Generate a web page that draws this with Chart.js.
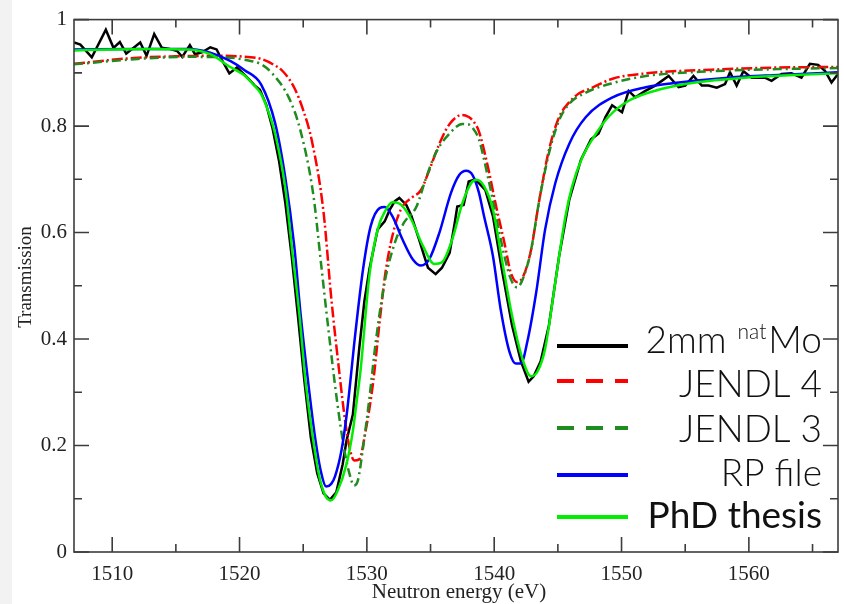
<!DOCTYPE html>
<html>
<head>
<meta charset="utf-8">
<script src="https://cdn.jsdelivr.net/npm/chart.js@4.4.0/dist/chart.umd.min.js"></script>
<style>
  html, body { margin: 0; padding: 0; background: #fff; }
</style>
</head>
<body>
<canvas id="chart" width="844" height="604"></canvas>
<script>
// measured transmission, 2mm natMo
const expE = [1507.0, 1507.5, 1508.4, 1509.5, 1510.1, 1510.6, 1511.1, 1512.2, 1512.7, 1513.3,
              1513.9, 1514.5, 1515.1, 1515.5, 1516.1, 1516.5, 1517.1, 1517.7, 1518.2, 1518.6,
              1519.2, 1519.8, 1520.5, 1521.2, 1521.6, 1522.1, 1522.6, 1523.1, 1523.6, 1524.1,
              1524.6, 1525.1, 1525.6, 1526.1, 1526.6, 1527.1, 1527.6, 1528.1, 1528.4, 1528.9,
              1529.4, 1529.8, 1530.2, 1530.85, 1531.4, 1531.8, 1532.2, 1532.55, 1533.1, 1533.5,
              1534.1, 1534.5, 1534.8, 1535.4, 1535.9, 1536.5, 1536.9, 1537.1, 1537.6, 1538.0,
              1538.4, 1538.8, 1539.3, 1539.9, 1540.6, 1541.4, 1542.1, 1542.7, 1543.1, 1543.65,
              1544.3, 1545.1, 1545.9, 1546.8, 1547.6, 1548.2, 1548.74, 1549.26, 1550.04, 1550.56,
              1551.09, 1551.87, 1552.65, 1553.7, 1554.48, 1555.0, 1555.65, 1556.3, 1556.83, 1557.48,
              1558.13, 1558.52, 1559.04, 1559.57, 1560.22, 1561.26, 1561.78, 1562.57, 1563.35, 1564.13,
              1564.79, 1565.44, 1565.97, 1566.49, 1567.0];
const expT = [0.957, 0.953, 0.929, 0.981, 0.947, 0.958, 0.936, 0.957, 0.932, 0.973,
              0.947, 0.945, 0.941, 0.930, 0.952, 0.935, 0.939, 0.948, 0.944, 0.925,
              0.899, 0.910, 0.894, 0.876, 0.868, 0.840, 0.795, 0.735, 0.655, 0.555,
              0.440, 0.320, 0.215, 0.148, 0.110, 0.098, 0.112, 0.165, 0.209, 0.258,
              0.382, 0.470, 0.531, 0.606, 0.621, 0.643, 0.659, 0.665, 0.652, 0.631,
              0.587, 0.556, 0.534, 0.522, 0.534, 0.562, 0.618, 0.649, 0.652, 0.696,
              0.699, 0.693, 0.680, 0.631, 0.531, 0.426, 0.358, 0.320, 0.330, 0.358,
              0.426, 0.556, 0.662, 0.736, 0.775, 0.786, 0.817, 0.839, 0.826, 0.866,
              0.854, 0.866, 0.876, 0.894, 0.873, 0.876, 0.894, 0.876, 0.876, 0.872,
              0.879, 0.901, 0.876, 0.903, 0.891, 0.891, 0.885, 0.898, 0.899, 0.891,
              0.917, 0.915, 0.904, 0.882, 0.898];

// JENDL 4
const j4E = [1507, 1511.7, 1515, 1518, 1520, 1521.7, 1522.7, 1523.4, 1524.3, 1525.0,
             1525.7, 1526.6, 1527.2, 1527.8, 1528.3, 1528.65, 1529.0, 1529.4, 1529.9, 1530.5,
             1531.0, 1531.5, 1532.2, 1532.8, 1533.5, 1534.25, 1534.9, 1535.7, 1536.5, 1537.5,
             1538.0, 1538.4, 1538.8, 1539.5, 1540.1, 1540.8, 1541.3, 1541.8, 1542.3, 1542.9,
             1543.5, 1544.3, 1545.1, 1545.9, 1546.7, 1547.5, 1549.3, 1551.9, 1557.1, 1562.3, 1567];
const j4T = [0.917, 0.928, 0.931, 0.932, 0.931, 0.926, 0.915, 0.903, 0.872, 0.830,
             0.770, 0.638, 0.478, 0.345, 0.245, 0.195, 0.172, 0.174, 0.227, 0.320,
             0.432, 0.531, 0.612, 0.649, 0.665, 0.680, 0.717, 0.767, 0.804, 0.821,
             0.817, 0.808, 0.790, 0.724, 0.655, 0.581, 0.525, 0.507, 0.519, 0.568,
             0.655, 0.755, 0.817, 0.845, 0.862, 0.870, 0.889, 0.899, 0.906, 0.910, 0.911];

// JENDL 3
const j3E = [1507, 1512, 1516, 1519, 1520.5, 1521.7, 1522.6, 1523.9, 1524.8, 1525.8,
             1526.4, 1527.0, 1527.65, 1528.2, 1528.6, 1529.0, 1529.3, 1529.7, 1530.2, 1530.7,
             1531.4, 1532.2, 1532.9, 1533.9, 1534.6, 1535.4, 1536.5, 1537.5, 1538.0, 1538.3,
             1538.8, 1539.5, 1540.1, 1540.8, 1541.3, 1541.8, 1542.3, 1542.9, 1543.5, 1544.3,
             1545.1, 1545.9, 1547.2, 1549.2, 1551.9, 1557.1, 1562.3, 1567];
const j3T = [0.916, 0.926, 0.930, 0.929, 0.924, 0.916, 0.898, 0.852, 0.790, 0.670,
             0.542, 0.414, 0.285, 0.196, 0.150, 0.125, 0.135, 0.196, 0.289, 0.395,
             0.507, 0.581, 0.618, 0.649, 0.699, 0.749, 0.786, 0.804, 0.803, 0.797,
             0.775, 0.705, 0.637, 0.556, 0.513, 0.497, 0.516, 0.568, 0.655, 0.749,
             0.811, 0.842, 0.863, 0.880, 0.894, 0.903, 0.907, 0.909];

// RP file
const rpE = [1507, 1512, 1516, 1517.7, 1519.3, 1520.4, 1521.7, 1522.8, 1523.6, 1524.3,
             1524.8, 1525.4, 1525.9, 1526.4, 1526.8, 1527.2, 1527.5, 1528.0, 1528.4, 1528.7,
             1529.0, 1529.7, 1530.3, 1531.0, 1531.4, 1532.0, 1532.8, 1533.6, 1534.25, 1534.9,
             1535.7, 1536.6, 1537.25, 1537.8, 1538.3, 1538.8, 1539.2, 1539.9, 1540.5, 1541.2,
             1541.7, 1542.1, 1542.6, 1543.3, 1544.0, 1544.8, 1545.9, 1547.2, 1549.3, 1551.9,
             1554.5, 1558.4, 1562.3, 1567];
const rpT = [0.944, 0.945, 0.945, 0.938, 0.922, 0.905, 0.878, 0.805, 0.702, 0.574,
             0.446, 0.317, 0.221, 0.150, 0.123, 0.128, 0.142, 0.190, 0.255, 0.320,
             0.390, 0.531, 0.612, 0.646, 0.648, 0.631, 0.587, 0.550, 0.538, 0.550,
             0.600, 0.674, 0.708, 0.716, 0.708, 0.675, 0.631, 0.556, 0.457, 0.376,
             0.354, 0.354, 0.395, 0.488, 0.606, 0.693, 0.767, 0.817, 0.854, 0.873,
             0.882, 0.891, 0.896, 0.901];

// PhD thesis
const phdE = [1507, 1510, 1513, 1516, 1517.7, 1519.2, 1520.4, 1521.0, 1521.7, 1522.3,
              1522.8, 1523.6, 1524.1, 1524.7, 1525.2, 1525.8, 1526.3, 1526.8, 1527.2, 1527.7,
              1528.4, 1528.9, 1529.2, 1529.5, 1530.2, 1530.85, 1531.5, 1532.0, 1532.7, 1533.5,
              1534.4, 1535.3, 1535.9, 1536.7, 1537.5, 1538.2, 1538.6, 1539.2, 1539.9, 1540.6,
              1541.4, 1542.2, 1542.9, 1543.4, 1544.0, 1544.8, 1545.6, 1546.1, 1546.9, 1548.0,
              1549.0, 1550.6, 1553.2, 1555.8, 1559.7, 1563.6, 1567];
const phdT = [0.942, 0.944, 0.945, 0.944, 0.935, 0.912, 0.895, 0.880, 0.860, 0.825,
              0.785, 0.683, 0.574, 0.446, 0.317, 0.208, 0.138, 0.103, 0.097, 0.115,
              0.165, 0.227, 0.283, 0.340, 0.520, 0.606, 0.643, 0.657, 0.652, 0.624,
              0.575, 0.541, 0.544, 0.587, 0.655, 0.693, 0.699, 0.687, 0.643, 0.550,
              0.444, 0.364, 0.330, 0.339, 0.382, 0.507, 0.631, 0.685, 0.740, 0.786,
              0.818, 0.848, 0.870, 0.882, 0.891, 0.896, 0.899];

const xTicks = [1510, 1520, 1530, 1540, 1550, 1560];
const xMinor = [1515, 1525, 1535, 1545, 1555, 1565];
const yTicks = [0, 0.2, 0.4, 0.6, 0.8, 1];
const yMinor = [0.1, 0.3, 0.5, 0.7, 0.9];

const toPts = (xs, ys) => xs.map((v, i) => ({ x: v, y: ys[i] }));

// white page with a thin grey strip on the left
const bg = {
  id: 'bg',
  beforeDraw(chart) {
    const ctx = chart.ctx;
    ctx.save();
    ctx.fillStyle = '#ffffff';
    ctx.fillRect(0, 0, chart.width, chart.height);
    ctx.fillStyle = '#f2f2f2';
    ctx.fillRect(0, 0, 12, chart.height);
    ctx.restore();
  }
};

// box round the plot with inward ticks on all four sides, plus axis titles
const frame = {
  id: 'frame',
  afterDatasetsDraw(chart) {
    const { ctx, chartArea: a, scales: { x, y } } = chart;
    ctx.save();
    ctx.strokeStyle = '#3c3c3c';
    ctx.lineWidth = 1.6;
    ctx.strokeRect(a.left, a.top, a.right - a.left, a.bottom - a.top);
    ctx.beginPath();
    const xt = (v, len) => {
      const px = x.getPixelForValue(v);
      ctx.moveTo(px, a.bottom); ctx.lineTo(px, a.bottom - len);
      ctx.moveTo(px, a.top); ctx.lineTo(px, a.top + len);
    };
    const yt = (v, len) => {
      const py = y.getPixelForValue(v);
      ctx.moveTo(a.left, py); ctx.lineTo(a.left + len, py);
      ctx.moveTo(a.right, py); ctx.lineTo(a.right - len, py);
    };
    xTicks.forEach(v => xt(v, 15));
    xMinor.forEach(v => xt(v, 8));
    yTicks.forEach(v => yt(v, 15));
    yMinor.forEach(v => yt(v, 8));
    ctx.stroke();

    ctx.fillStyle = '#222';
    ctx.textAlign = 'center';
    ctx.textBaseline = 'middle';
    ctx.font = '21px "Liberation Serif"';
    ctx.fillText('Neutron energy (eV)', (a.left + a.right) / 2 + 3, 592);
    ctx.translate(26, 277);
    ctx.rotate(-Math.PI / 2);
    ctx.font = '19px "Liberation Serif"';
    ctx.fillText('Transmission', 0, 0);
    ctx.restore();
  }
};

// legend in the lower right corner, text right aligned
const legendLineY = [346, 381, 428, 475, 517];
const legendTextY = [353, 397, 442, 486, 528];
const legend = {
  id: 'customLegend',
  afterDraw(chart) {
    const ctx = chart.ctx;
    const right = 822;
    ctx.save();
    chart.data.datasets.forEach((ds, i) => {
      ctx.beginPath();
      ctx.strokeStyle = ds.borderColor;
      ctx.lineWidth = 4;
      ctx.setLineDash(ds.legendDash || []);
      ctx.moveTo(557, legendLineY[i]);
      ctx.lineTo(628, legendLineY[i]);
      ctx.stroke();
      ctx.setLineDash([]);
      ctx.fillStyle = '#111';
      ctx.textBaseline = 'alphabetic';
      ctx.textAlign = 'right';
      const weight = ds.legendWeight || 300;
      ctx.font = weight + ' 37px Lato';
      if (ds.label === '2mm natMo') {
        ctx.fillText('Mo', right, legendTextY[i]);
        const wMo = ctx.measureText('Mo').width;
        ctx.font = weight + ' 21px Lato';
        ctx.fillText('nat', right - wMo - 2, legendTextY[i] - 14);
        const wNat = ctx.measureText('nat').width;
        ctx.font = weight + ' 37px Lato';
        ctx.fillText('2mm', right - wMo - wNat - 13, legendTextY[i]);
      } else {
        ctx.fillText(ds.label, right, legendTextY[i]);
      }
    });
    ctx.restore();
  }
};

const tickFont = { family: 'Liberation Serif', size: 21 };

new Chart(document.getElementById('chart'), {
  type: 'line',
  data: {
    datasets: [
      { label: '2mm natMo', data: toPts(expE, expT), borderColor: '#000000', borderWidth: 2.5,
        tension: 0, order: 4 },
      { label: 'JENDL 4', data: toPts(j4E, j4T), borderColor: '#ff0000', borderWidth: 2.5,
        borderDash: [11, 3, 2, 3], legendDash: [17, 12], cubicInterpolationMode: 'monotone', order: 3 },
      { label: 'JENDL 3', data: toPts(j3E, j3T), borderColor: '#1e8c1e', borderWidth: 2.5,
        borderDash: [9, 4, 2, 4], legendDash: [17, 12], cubicInterpolationMode: 'monotone', order: 2 },
      { label: 'RP file', data: toPts(rpE, rpT), borderColor: '#0000ff', borderWidth: 2.5,
        cubicInterpolationMode: 'monotone', order: 1 },
      { label: 'PhD thesis', data: toPts(phdE, phdT), borderColor: '#00ee00', borderWidth: 2.5,
        cubicInterpolationMode: 'monotone', order: 0, legendWeight: 400 }
    ]
  },
  options: {
    responsive: false,
    animation: false,
    elements: { point: { radius: 0 } },
    layout: { padding: { left: 0, top: 15, right: 6, bottom: 0 } },
    plugins: { legend: { display: false }, tooltip: { enabled: false } },
    scales: {
      x: {
        type: 'linear', min: 1507, max: 1567,
        afterBuildTicks: s => { s.ticks = xTicks.map(v => ({ value: v })); },
        afterFit: s => { s.height = 52; },
        grid: { display: false, drawTicks: false },
        border: { display: false },
        ticks: { callback: v => String(v), font: tickFont, color: '#222', padding: 10,
                 autoSkip: false, maxRotation: 0 }
      },
      y: {
        type: 'linear', min: 0, max: 1,
        afterBuildTicks: s => { s.ticks = yTicks.map(v => ({ value: v })); },
        afterFit: s => { s.width = 74; },
        grid: { display: false, drawTicks: false },
        border: { display: false },
        ticks: { callback: v => String(v), font: tickFont, color: '#222', padding: 7,
                 autoSkip: false }
      }
    }
  },
  plugins: [bg, frame, legend]
});
</script>
</body>
</html>
